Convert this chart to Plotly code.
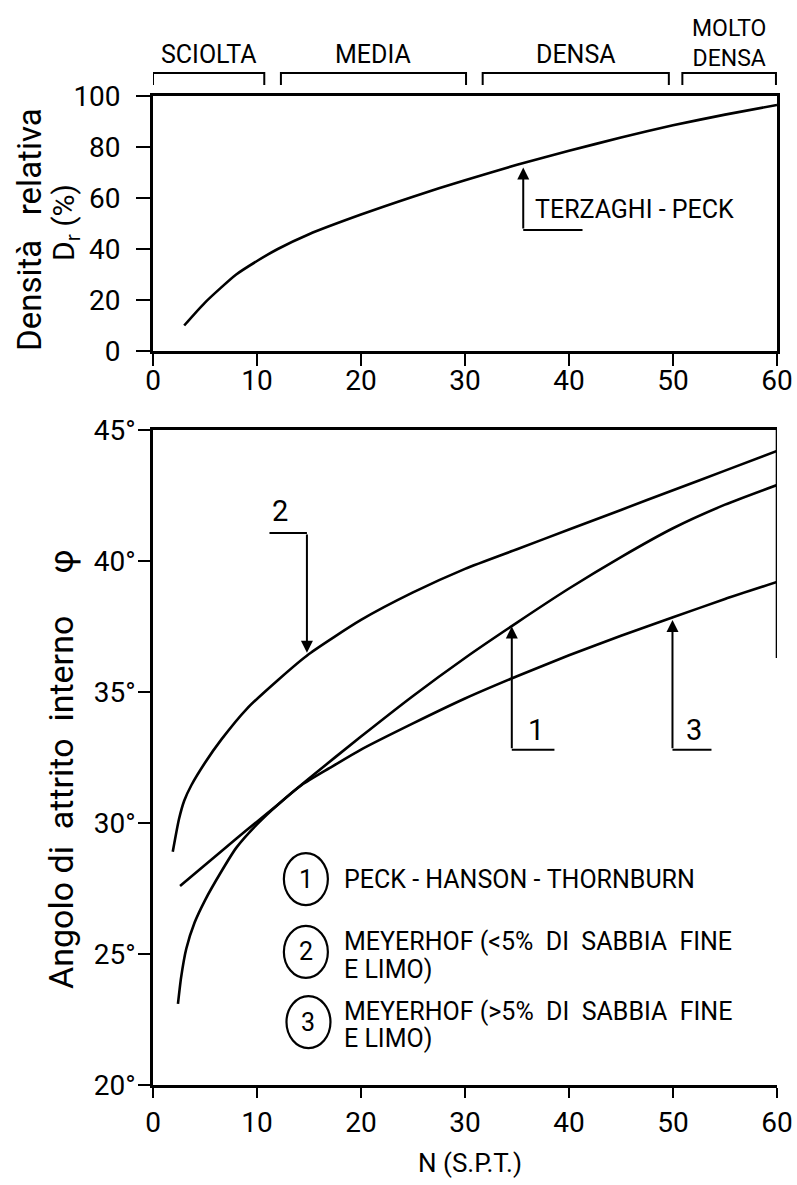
import plotly.graph_objects as go

# ---------------- data ----------------
# Top chart: Terzaghi-Peck relative density vs N (SPT)
tp_N = [3, 5, 8, 10, 12, 15, 20, 25, 30, 35, 40, 45, 50, 55, 60]
tp_Dr = [10, 19, 30, 35.3, 40, 45.8, 53.5, 60.5, 67, 73, 78.5, 83.7, 88.5, 92.7, 96.5]

# Bottom chart: friction angle vs N (SPT)
c1_N = [2.6, 5, 8, 10, 12, 15, 20, 25, 30, 35, 40, 45, 50, 55, 60]          # Peck-Hanson-Thornburn
c1_phi = [27.6, 28.4, 29.4, 30.05, 30.7, 31.7, 33.3, 34.85, 36.3, 37.65, 38.95, 40.15, 41.25, 42.15, 42.9]
c2_N = [1.9, 2.5, 3.0, 3.7, 5, 6.6, 9, 12, 15, 20, 25, 30, 35, 40, 45, 50, 55, 60]  # Meyerhof <5%
c2_phi = [28.9, 30.15, 30.85, 31.45, 32.3, 33.2, 34.35, 35.45, 36.45, 37.75, 38.8, 39.7, 40.45, 41.2, 41.95, 42.7, 43.45, 44.2]
c3_N = [2.4, 2.7, 3.2, 4, 5, 6.5, 8, 10, 12, 14.3, 17, 20, 25, 30, 35, 40, 45, 50, 55, 60]  # Meyerhof >5%
c3_phi = [23.1, 24.1, 25.2, 26.2, 27.05, 28.1, 29.05, 29.95, 30.7, 31.45, 32.1, 32.8, 33.8, 34.75, 35.6, 36.4, 37.15, 37.85, 38.55, 39.2]

x_ticks = [0, 10, 20, 30, 40, 50, 60]
dr_ticks = [0, 20, 40, 60, 80, 100]
phi_ticks = [20, 25, 30, 35, 40, 45]
phi_ticktext = ["20°", "25°", "30°", "35°", "40°", "45°"]

# density classes: (label, N range)
classes = [("SCIOLTA", (0.0, 10.7)), ("MEDIA", (12.3, 30.1)), ("DENSA", (31.7, 49.6)),
           ("MOLTO<br>DENSA", (50.9, 59.9))]

NB = "\u00a0"
W2 = NB + NB
legend_items = [
    ("1", [f"PECK{NB}-{NB}HANSON{NB}-{NB}THORNBURN"]),
    ("2", [f"MEYERHOF{NB}(<5%{W2}DI{W2}SABBIA{W2}FINE", f"E{NB}LIMO)"]),
    ("3", [f"MEYERHOF{NB}(>5%{W2}DI{W2}SABBIA{W2}FINE", f"E{NB}LIMO)"]),
]

FONT = "Roboto, 'DejaVu Sans', sans-serif"
BLK = "black"

fig = go.Figure()
line_style = dict(color=BLK, width=2.6, shape="spline", smoothing=0.6)
fig.add_trace(go.Scatter(x=tp_N, y=tp_Dr, mode="lines", line=line_style, xaxis="x", yaxis="y"))
fig.add_trace(go.Scatter(x=c1_N, y=c1_phi, mode="lines", line=line_style, xaxis="x2", yaxis="y2"))
fig.add_trace(go.Scatter(x=c2_N, y=c2_phi, mode="lines", line=line_style, xaxis="x2", yaxis="y2"))
fig.add_trace(go.Scatter(x=c3_N, y=c3_phi, mode="lines", line=line_style, xaxis="x2", yaxis="y2"))

XDOM = [153 / 797, 777 / 797]
axis_common = dict(showgrid=False, zeroline=False, showline=True, linecolor=BLK, linewidth=2.6,
                   ticks="outside", tickcolor=BLK, tickwidth=2.2, automargin=False,
                   tickfont=dict(family=FONT, size=28, color=BLK))

layout = dict(
    width=797, height=1185, margin=dict(l=0, r=0, t=0, b=0, autoexpand=False),
    paper_bgcolor="white", plot_bgcolor="white", showlegend=False,
    xaxis=dict(domain=XDOM, range=[0, 60], tickvals=x_ticks, ticklen=12, mirror=True,
               anchor="y", ticklabelstandoff=-9, **axis_common),
    yaxis=dict(domain=[1 - 351 / 1185, 1 - 96 / 1185], range=[0, 100], tickvals=dr_ticks, ticklen=14,
               mirror=True, anchor="x", ticklabelstandoff=10, **axis_common),
    xaxis2=dict(domain=XDOM, range=[0, 60], tickvals=x_ticks, ticklen=10, mirror=True,
                anchor="y2", ticklabelstandoff=1, **axis_common),
    yaxis2=dict(domain=[1 - 1085 / 1185, 1 - 430 / 1185], range=[20, 45], tickvals=phi_ticks,
                ticktext=phi_ticktext, ticklen=12, mirror=False, anchor="x2", ticklabelstandoff=-3,
                **axis_common),
)
fig.update_layout(**layout)

shapes = []
annotations = []

# class brackets above top chart
yb_top, yb_bot = 1 - 73 / 1185, 1 - 85 / 1185
for lab, (a, b) in classes:
    shapes.append(dict(type="path", xref="x", yref="paper",
                       path=f"M {a},{yb_bot} L {a},{yb_top} L {b},{yb_top} L {b},{yb_bot}",
                       line=dict(color=BLK, width=2)))
    two = "<br>" in lab
    annotations.append(dict(text=lab, x=(a + b) / 2, y=1 - (43 if two else 55) / 1185, xref="x",
                            yref="paper", showarrow=False,
                            font=dict(family=FONT, size=23 if two else 25, color=BLK),
                            xanchor="center", yanchor="middle"))

# Terzaghi-Peck pointer
annotations.append(dict(text="", x=35.6, y=72, ax=35.6, ay=47.5, xref="x", yref="y", axref="x", ayref="y",
                        showarrow=True, arrowhead=2, arrowsize=1.2, arrowwidth=2, arrowcolor=BLK, standoff=0))
shapes.append(dict(type="line", xref="x", yref="y", x0=35.6, x1=41.3, y0=47.5, y1=47.5,
                   line=dict(color=BLK, width=2)))
annotations.append(dict(text=f"TERZAGHI{NB}-{NB}PECK", x=36.5, y=55.6, xref="x", yref="y", showarrow=False,
                        xanchor="left", yanchor="middle", font=dict(family=FONT, size=25, color=BLK)))

# top chart axis titles
annotations.append(dict(text=f"Densità{NB}{NB}{NB}relativa", x=30 / 797, y=1 - 230 / 1185, xref="paper",
                        yref="paper", showarrow=False, textangle=-90, xanchor="center", yanchor="middle",
                        font=dict(family=FONT, size=33, color=BLK)))
annotations.append(dict(text="D<sub>r</sub> (%)", x=66 / 797, y=1 - 223 / 1185, xref="paper", yref="paper",
                        showarrow=False, textangle=-90, xanchor="center", yanchor="middle",
                        font=dict(family=FONT, size=30, color=BLK)))

# bottom chart axis titles
annotations.append(dict(text=f"Angolo{NB}di{NB}{NB}attrito{NB}{NB}interno{NB}{NB}{NB}{NB}{NB}φ", x=61 / 797,
                        y=1 - 770 / 1185, xref="paper", yref="paper", showarrow=False, textangle=-90,
                        xanchor="center", yanchor="middle", font=dict(family=FONT, size=34, color=BLK)))
annotations.append(dict(text="N (S.P.T.)", x=470 / 797, y=1 - 1163 / 1185, xref="paper", yref="paper",
                        showarrow=False, xanchor="center", yanchor="middle",
                        font=dict(family=FONT, size=26, color=BLK)))

# partial right frame line on bottom chart
shapes.append(dict(type="line", xref="x2", yref="y2", x0=60, x1=60, y0=36.3, y1=45,
                   line=dict(color=BLK, width=2.6)))

# curve pointers (label, tip, bottom-of-leader, end-of-leader, label position)
pointers = [
    ("2", (14.8, 36.5), (14.8, 41.07), (11.2, 41.07), (12.2, 41.9)),
    ("1", (34.5, 37.5), (34.5, 32.8), (38.6, 32.8), (36.8, 33.55)),
    ("3", (49.95, 37.75), (49.95, 32.8), (53.7, 32.8), (52.0, 33.55)),
]
for lab, tip, tail, end, lp in pointers:
    annotations.append(dict(text="", x=tip[0], y=tip[1], ax=tail[0], ay=tail[1], xref="x2", yref="y2",
                            axref="x2", ayref="y2", showarrow=True, arrowhead=2, arrowsize=1.2,
                            arrowwidth=2, arrowcolor=BLK, standoff=0))
    shapes.append(dict(type="line", xref="x2", yref="y2", x0=tail[0], x1=end[0], y0=tail[1], y1=end[1],
                       line=dict(color=BLK, width=2)))
    annotations.append(dict(text=lab, x=lp[0], y=lp[1], xref="x2", yref="y2", showarrow=False,
                            xanchor="center", yanchor="middle", font=dict(family=FONT, size=29, color=BLK)))

# legend inside bottom chart
circle_pos = [(14.7, 27.86), (14.7, 25.08), (14.95, 22.4)]
text_lines_y = [[27.86], [25.46, 24.39], [22.79, 21.79]]
for (num, lines), (cx, cy), lys in zip(legend_items, circle_pos, text_lines_y):
    shapes.append(dict(type="circle", xref="x2", yref="y2", xsizemode="pixel", ysizemode="pixel",
                       xanchor=cx, yanchor=cy, x0=-22, x1=22, y0=-26, y1=26,
                       line=dict(color=BLK, width=2.2)))
    annotations.append(dict(text=num, x=cx, y=cy, xref="x2", yref="y2", showarrow=False,
                            xanchor="center", yanchor="middle", font=dict(family=FONT, size=25, color=BLK)))
    for t, ly in zip(lines, lys):
        annotations.append(dict(text=t, x=18.2, y=ly, xref="x2", yref="y2", showarrow=False,
                                xanchor="left", yanchor="middle", font=dict(family=FONT, size=25, color=BLK)))

fig.update_layout(shapes=shapes, annotations=annotations)
fig.write_html("out.html")
